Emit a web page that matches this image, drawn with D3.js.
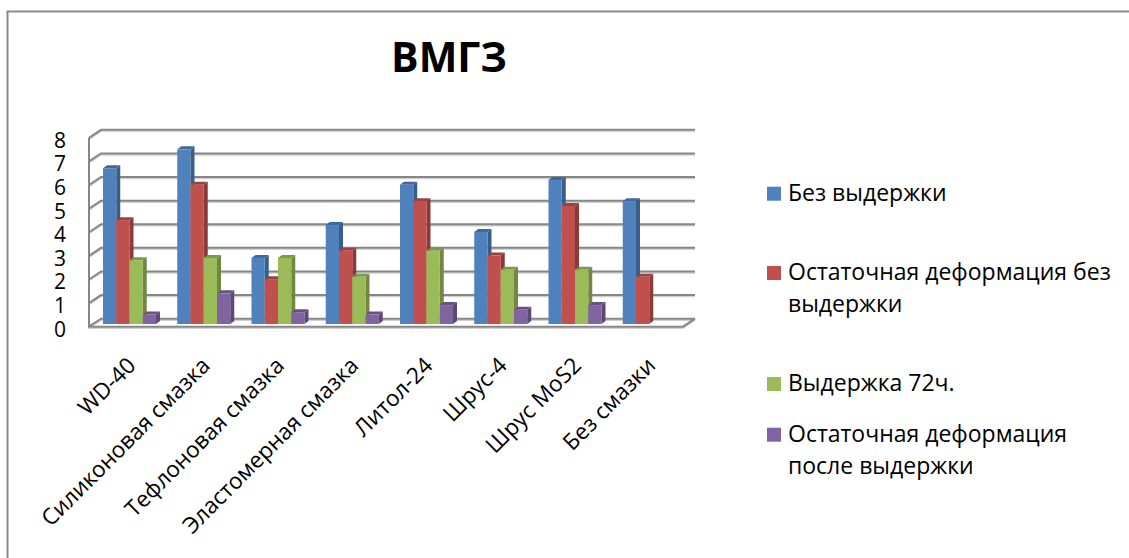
<!DOCTYPE html>
<html>
<head>
<meta charset="utf-8">
<script src="https://cdn.jsdelivr.net/npm/d3@7"></script>
<style>
  body { margin: 0; background: #fff; }
  text { font-family: "Open Sans", sans-serif; fill: #000; }
</style>
</head>
<body>
<div id="chart"></div>
<script>
const categories = ["WD-40", "Силиконовая смазка", "Тефлоновая смазка", "Эластомерная смазка",
                    "Литол-24", "Шрус-4", "Шрус MoS2", "Без смазки"];
const seriesNames = ["Без выдержки", "Остаточная деформация без выдержки",
                     "Выдержка 72ч.", "Остаточная деформация после выдержки"];
// one array per series, same order as categories
const bezVyderzhki   = [6.6, 7.4, 2.8, 4.2, 5.9, 3.9, 6.1, 5.2];
const ostatBez       = [4.4, 5.9, 1.9, 3.1, 5.2, 2.9, 5.0, 2.0];
const vyderzhka72    = [2.7, 2.8, 2.8, 2.0, 3.1, 2.3, 2.3, null];
const ostatPosle     = [0.4, 1.3, 0.5, 0.4, 0.8, 0.6, 0.8, null];
const yTicks = [0, 1, 2, 3, 4, 5, 6, 7, 8];
const legendLines = [["Без выдержки"], ["Остаточная деформация без", "выдержки"],
                     ["Выдержка 72ч."], ["Остаточная деформация", "после выдержки"]];

const seriesValues = [bezVyderzhki, ostatBez, vyderzhka72, ostatPosle];
const colors = ["#4F81BD", "#C0504D", "#9BBB59", "#8064A2"];

const width = 1129, height = 558;
const depthX = 12, depthY = -8;   // floor depth offset (front -> back)
const barDX = 4, barDY = -3;      // bar side/top depth

const svg = d3.select("#chart").append("svg")
  .attr("width", width).attr("height", height);

// chart border (only top and left visible)
svg.append("path").attr("d", "M7.5,558 V11.5 H1129")
  .attr("fill", "none").attr("stroke", "#8a8a8a").attr("stroke-width", 2);

// title
svg.append("text").attr("x", 449).attr("y", 72).attr("text-anchor", "middle")
  .style("font-size", "41px").style("font-weight", "bold").text("ВМГЗ");

const x0 = d3.scaleBand().domain(categories).range([89, 683]);
const x1 = d3.scaleBand().domain(d3.range(4)).range([0, 53]);
const yFront = d3.scaleLinear().domain([0, 8]).range([326.7, 137.8]);
const yBar = d3.scaleLinear().domain([0, 8]).range([324, 135.2]);

const grid = svg.append("g");
const [xl, xr] = x0.range();
// gridlines: side wall diagonal + back wall horizontal
yTicks.forEach(v => {
  const yf = yFront(v), yb = yf + depthY;
  const d = `M${xl},${yf} L${xl + depthX},${yb} H${xr + depthX}`;
  grid.append("path").attr("d", d).attr("fill", "none")
    .attr("stroke", "#d0d0d0").attr("stroke-width", 1.5).attr("transform", "translate(0,1.5)");
  grid.append("path").attr("d", d).attr("fill", "none")
    .attr("stroke", "#868686").attr("stroke-width", 2);
});
// floor front edge and right side, left axis line
const floorD = `M${xl},${yFront(8)} V${yFront(0)} H${xr} L${xr + depthX},${yFront(0) + depthY}`;
grid.append("path").attr("d", floorD)
  .attr("fill", "none").attr("stroke", "#d0d0d0").attr("stroke-width", 1.5)
  .attr("transform", "translate(0,1.5)");
grid.append("path").attr("d", floorD)
  .attr("fill", "none").attr("stroke", "#868686").attr("stroke-width", 2);

// y labels
svg.append("g").selectAll("text").data(yTicks).join("text")
  .attr("x", 66).attr("y", d => yFront(d) + 2)
  .attr("text-anchor", "end").attr("dominant-baseline", "central")
  .style("font-size", "21px").text(d => d);

// bars
const bars = [];
categories.forEach((c, i) => {
  seriesValues.forEach((vals, s) => {
    if (vals[i] == null) return;
    bars.push({ c, s, v: vals[i] });
  });
});
const barG = svg.append("g");
bars.forEach(b => {
  const bx = x0(b.c) + 14 + x1(b.s), bw = x1.bandwidth();
  const top = yBar(b.v), base = yBar(0);
  const col = d3.color(colors[b.s]);
  const g = barG.append("g");
  // side face
  g.append("path")
    .attr("d", `M${bx + bw},${base} V${top} l${barDX},${barDY} V${base + barDY} Z`)
    .attr("fill", col.darker(0.9));
  // top face
  g.append("path")
    .attr("d", `M${bx},${top} h${bw} l${barDX},${barDY} h${-bw} Z`)
    .attr("fill", col.darker(0.6));
  // front face
  g.append("rect").attr("x", bx).attr("y", top).attr("width", bw).attr("height", base - top)
    .attr("fill", col);
});

// x labels
svg.append("g").selectAll("text").data(categories).join("text")
  .attr("transform", d => `translate(${x0(d) + x0.bandwidth() / 2 + 11},367) rotate(-45)`)
  .attr("text-anchor", "end").style("font-size", "22.5px").text(d => d);

// legend
const legendY = [200.7, 280, 391, 441.7];
const leg = svg.append("g");
legendLines.forEach((lines, i) => {
  leg.append("rect").attr("x", 767).attr("y", legendY[i] - 14).attr("width", 14).attr("height", 14)
    .attr("fill", colors[i]);
  lines.forEach((t, j) => {
    leg.append("text").attr("x", 788).attr("y", legendY[i] + j * 32)
      .style("font-size", "23px").text(t);
  });
});
</script>
</body>
</html>
